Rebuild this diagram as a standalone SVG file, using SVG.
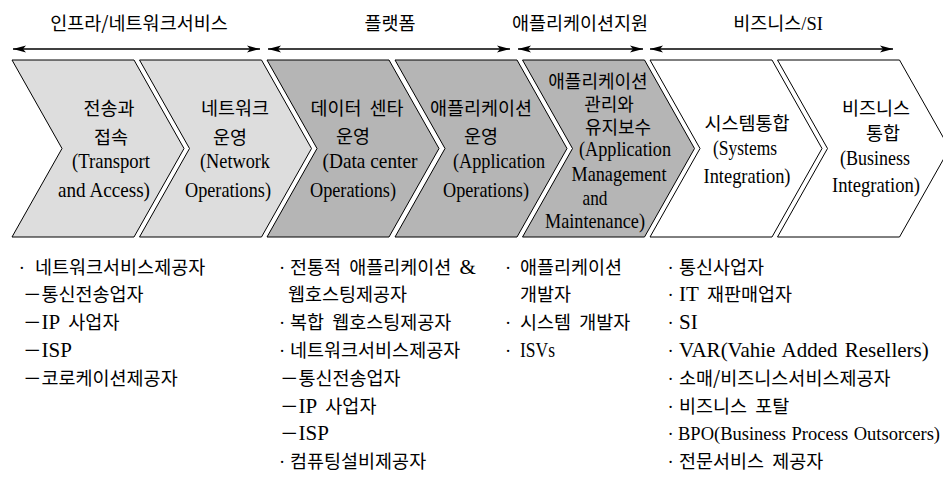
<svg xmlns="http://www.w3.org/2000/svg" width="943" height="486" viewBox="0 0 943 486">
<style>
text{font-family:"Noto Sans CJK KR",sans-serif;font-size:18.5px;fill:#000;word-spacing:4px}
.e{font-family:"Liberation Serif",serif}
.t{font-family:"Liberation Serif",serif;font-size:21px;word-spacing:0}
.c{text-anchor:middle}
.s{font-size:18px}
.ch{stroke:#000;stroke-width:1}
.l1{fill:#dddddd}
.l2{fill:#b5b5b5}
.l3{fill:#fff}
.ar{stroke:#000;stroke-width:1.5;fill:none;marker-start:url(#ah);marker-end:url(#ah)}
</style>
<defs>
<marker id="ah" markerUnits="userSpaceOnUse" markerWidth="13" markerHeight="8" refX="13" refY="4" orient="auto-start-reverse" viewBox="0 0 13 8">
<path d="M0,0.5 L13,4 L0,7.5 L3,4 z" fill="#000"/>
</marker>
</defs>
<rect width="943" height="486" fill="#fff"/>

<g id="headers">
<text class="c" x="139" y="30">인프라/네트워크서비스</text>
<text class="c" x="390" y="30">플랫폼</text>
<text class="c" x="580" y="30">애플리케이션지원</text>
<text class="c" x="778" y="30">비즈니스<tspan class="e">/SI</tspan></text>
</g>

<g id="connectors">
<line class="ar" x1="13" y1="49" x2="260" y2="49"/>
<line class="ar" x1="268" y1="49" x2="510" y2="49"/>
<line class="ar" x1="518" y1="49" x2="643" y2="49"/>
<line class="ar" x1="650" y1="49" x2="893" y2="49"/>
</g>

<g id="n1">
<polygon class="ch l1" points="12,60 134,60 184,148.5 134,237 12,237 62,148.5"/>
<text class="c" x="109" y="115">전송과</text>
<text class="c" x="111" y="144">접속</text>
<text class="c t" x="111" y="168" textLength="78" lengthAdjust="spacingAndGlyphs">(Transport</text>
<text class="c t" x="104" y="197" textLength="92" lengthAdjust="spacingAndGlyphs">and Access)</text>
</g>
<g id="n2">
<polygon class="ch l1" points="139.5,60 261.5,60 311.5,148.5 261.5,237 139.5,237 189.5,148.5"/>
<text class="c" x="235" y="115">네트워크</text>
<text class="c" x="230" y="144">운영</text>
<text class="c t" x="235" y="168" textLength="70" lengthAdjust="spacingAndGlyphs">(Network</text>
<text class="c t" x="228" y="197" textLength="86" lengthAdjust="spacingAndGlyphs">Operations)</text>
</g>
<g id="n3">
<polygon class="ch l2" points="267,60 389,60 439,148.5 389,237 267,237 317,148.5"/>
<text class="c" x="357" y="115">데이터 센타</text>
<text class="c" x="353" y="143">운영</text>
<text class="c t" x="370" y="168" textLength="95" lengthAdjust="spacingAndGlyphs">(Data center</text>
<text class="c t" x="353" y="197" textLength="86" lengthAdjust="spacingAndGlyphs">Operations)</text>
</g>
<g id="n4">
<polygon class="ch l2" points="395,60 517,60 567,148.5 517,237 395,237 445,148.5"/>
<text class="c" x="481" y="115">애플리케이션</text>
<text class="c" x="481" y="143">운영</text>
<text class="c t" x="499" y="168" textLength="92" lengthAdjust="spacingAndGlyphs">(Application</text>
<text class="c t" x="486" y="197" textLength="86" lengthAdjust="spacingAndGlyphs">Operations)</text>
</g>
<g id="n5">
<polygon class="ch l2" points="522.5,60 644.5,60 694.5,148.5 644.5,237 522.5,237 572.5,148.5"/>
<text class="c s" x="598" y="88">애플리케이션</text>
<text class="c s" x="609" y="111">관리와</text>
<text class="c s" x="618" y="134">유지보수</text>
<text class="c t" x="625" y="156" textLength="92" lengthAdjust="spacingAndGlyphs">(Application</text>
<text class="c t" x="619" y="181" textLength="95" lengthAdjust="spacingAndGlyphs">Management</text>
<text class="c t" x="595" y="205" textLength="25" lengthAdjust="spacingAndGlyphs">and</text>
<text class="c t" x="595" y="228" textLength="100" lengthAdjust="spacingAndGlyphs">Maintenance)</text>
</g>
<g id="n6">
<polygon class="ch l3" points="650,60 772,60 822,148.5 772,237 650,237 700,148.5"/>
<text class="c" x="747" y="130">시스템통합</text>
<text class="c t" x="745" y="155" textLength="64" lengthAdjust="spacingAndGlyphs">(Systems</text>
<text class="c t" x="747" y="183" textLength="87" lengthAdjust="spacingAndGlyphs">Integration)</text>
</g>
<g id="n7">
<polygon class="ch l3" points="777.5,60 899.5,60 949.5,148.5 899.5,237 777.5,237 827.5,148.5"/>
<text class="c" x="876" y="115">비즈니스</text>
<text class="c" x="883" y="140">통합</text>
<text class="c t" x="875" y="165" textLength="70" lengthAdjust="spacingAndGlyphs">(Business</text>
<text class="c t" x="876" y="192" textLength="88" lengthAdjust="spacingAndGlyphs">Integration)</text>
</g>

<g id="list1">
<text y="273.5"><tspan class="e" x="18.7">·</tspan><tspan x="35">네트워크서비스제공자</tspan></text>
<text x="23" y="301.3">－통신전송업자</text>
<text x="23" y="329.1">－<tspan class="t">IP</tspan> 사업자</text>
<text x="23" y="356.9">－<tspan class="t">ISP</tspan></text>
<text x="23" y="384.7">－코로케이션제공자</text>
</g>
<g id="list2">
<text y="273.5"><tspan class="e" x="279">·</tspan><tspan x="290">전통적 애플리케이션 <tspan class="t">&amp;</tspan></tspan></text>
<text x="288" y="301.3">웹호스팅제공자</text>
<text y="329.1"><tspan class="e" x="279">·</tspan><tspan x="290">복합 웹호스팅제공자</tspan></text>
<text y="356.9"><tspan class="e" x="279">·</tspan><tspan x="290">네트워크서비스제공자</tspan></text>
<text x="280" y="384.7">－통신전송업자</text>
<text x="280" y="412.5">－<tspan class="t">IP</tspan> 사업자</text>
<text x="280" y="440.3">－<tspan class="t">ISP</tspan></text>
<text y="468.1"><tspan class="e" x="279">·</tspan><tspan x="290">컴퓨팅설비제공자</tspan></text>
</g>
<g id="list3">
<text y="273.5"><tspan class="e" x="505">·</tspan><tspan x="520">애플리케이션</tspan></text>
<text x="520" y="301.3">개발자</text>
<text y="329.1"><tspan class="e" x="505">·</tspan><tspan x="520">시스템 개발자</tspan></text>
<text y="356.9"><tspan class="e" x="505">·</tspan><tspan class="t" x="520" textLength="35" lengthAdjust="spacingAndGlyphs">ISVs</tspan></text>
</g>
<g id="list4">
<text y="273.5"><tspan class="e" x="667.5">·</tspan><tspan x="679">통신사업자</tspan></text>
<text y="301.3"><tspan class="e" x="667.5">·</tspan><tspan x="679"><tspan class="t">IT</tspan> 재판매업자</tspan></text>
<text y="329.1"><tspan class="e" x="667.5">·</tspan><tspan class="t" x="679">SI</tspan></text>
<text y="356.9"><tspan class="e" x="667.5">·</tspan><tspan class="t" x="679" style="word-spacing:2px">VAR(Vahie Added Resellers)</tspan></text>
<text y="384.7"><tspan class="e" x="667.5">·</tspan><tspan x="679">소매/비즈니스서비스제공자</tspan></text>
<text y="412.5"><tspan class="e" x="667.5">·</tspan><tspan x="679">비즈니스 포탈</tspan></text>
<text y="440.3"><tspan class="e" x="667.5">·</tspan><tspan class="e" x="678" style="word-spacing:1px">BPO(Business Process Outsorcers)</tspan></text>
<text y="468.1"><tspan class="e" x="667.5">·</tspan><tspan x="679">전문서비스 제공자</tspan></text>
</g>
</svg>
